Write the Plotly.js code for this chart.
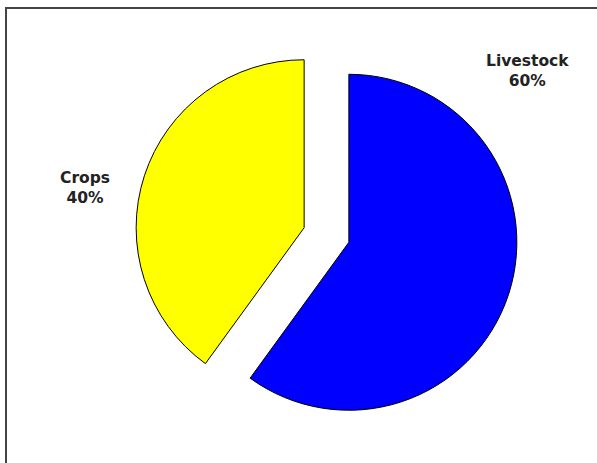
<!DOCTYPE html>
<html>
<head>
<meta charset="utf-8">
<script src="https://cdn.plot.ly/plotly-3.0.1.min.js"></script>
<style>html,body{margin:0;padding:0;background:#fff;}#chart{width:597px;height:463px;}</style>
</head>
<body>
<div id="chart"></div>
<script>
var labels = ['Livestock', 'Crops'];
var values = [60, 40];
var colors = ['#0000ff', '#ffff00'];
var percentText = ['60%', '40%'];

var labelPos = [{x: 527.5 / 597, y: 1 - 71 / 463}, {x: 85 / 597, y: 1 - 188 / 463}];

var annotations = labels.map(function (l, i) {
  return {
    xref: 'paper', yref: 'paper',
    x: labelPos[i].x, y: labelPos[i].y,
    xanchor: 'center', yanchor: 'middle',
    text: '<b>' + l + '</b><br><b>' + percentText[i] + '</b>',
    showarrow: false,
    font: {family: 'DejaVu Sans, Verdana, sans-serif', size: 15.5, color: '#222'}
  };
});

var trace = {
  type: 'pie',
  labels: labels,
  values: values,
  sort: false,
  direction: 'clockwise',
  rotation: 0,
  pull: [0.14, 0.14],
  marker: {colors: colors, line: {color: '#000', width: 1}},
  textinfo: 'none',
  hoverinfo: 'label+percent',
  showlegend: false,
  domain: {x: [135 / 597, 518 / 597], y: [1 - 426.5 / 463, 1 - 43.5 / 463]}
};

var layout = {
  width: 597, height: 463,
  margin: {l: 0, r: 0, t: 0, b: 0},
  paper_bgcolor: '#fff',
  showlegend: false,
  annotations: annotations,
  shapes: [{
    type: 'rect', xref: 'paper', yref: 'paper',
    x0: 6 / 597, x1: 1.05, y0: -0.05, y1: 1 - 8 / 463,
    line: {color: '#444', width: 2}
  }]
};

Plotly.newPlot('chart', [trace], layout, {displayModeBar: false});
</script>
</body>
</html>
